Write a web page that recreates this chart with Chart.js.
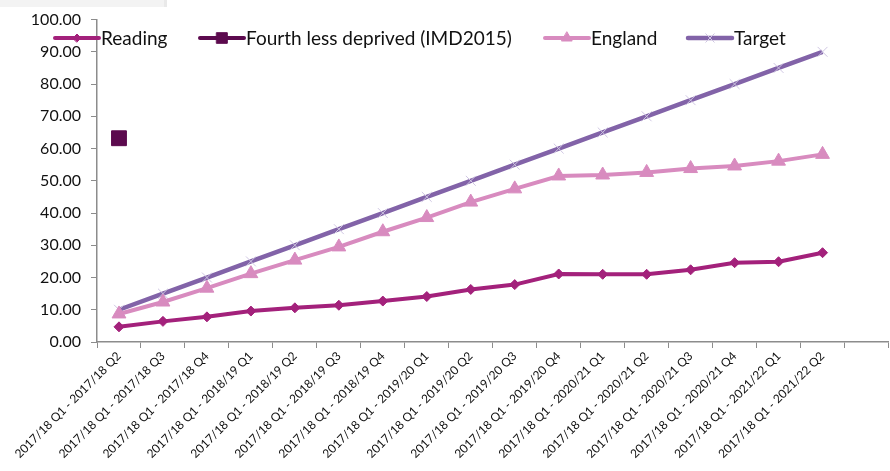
<!DOCTYPE html>
<html>
<head>
<meta charset="utf-8">
<script src="https://cdn.jsdelivr.net/npm/chart.js@4.4.1/dist/chart.umd.min.js"></script>
<style>
  html, body { margin: 0; padding: 0; background: #fff; overflow: hidden; }
  #wrap { width: 900px; height: 471px; }
  canvas { display: block; }
</style>
</head>
<body>
<div id="wrap"><canvas id="chart" width="900" height="471" style="width:900px;height:471px"></canvas></div>
<script>
// Cumulative period labels (last slot left blank on the axis)
const categories = [
  '2017/18 Q1 - 2017/18 Q2', '2017/18 Q1 - 2017/18 Q3', '2017/18 Q1 - 2017/18 Q4',
  '2017/18 Q1 - 2018/19 Q1', '2017/18 Q1 - 2018/19 Q2', '2017/18 Q1 - 2018/19 Q3',
  '2017/18 Q1 - 2018/19 Q4', '2017/18 Q1 - 2019/20 Q1', '2017/18 Q1 - 2019/20 Q2',
  '2017/18 Q1 - 2019/20 Q3', '2017/18 Q1 - 2019/20 Q4', '2017/18 Q1 - 2020/21 Q1',
  '2017/18 Q1 - 2020/21 Q2', '2017/18 Q1 - 2020/21 Q3', '2017/18 Q1 - 2020/21 Q4',
  '2017/18 Q1 - 2021/22 Q1', '2017/18 Q1 - 2021/22 Q2', ''
];
const reading = [4.7, 6.4, 7.8, 9.6, 10.6, 11.4, 12.7, 14.1, 16.3, 17.8, 21.1, 21.0, 21.0, 22.4, 24.6, 24.9, 27.7, null];
const fourthLessDeprived = [63.2, null, null, null, null, null, null, null, null, null, null, null, null, null, null, null, null, null];
const england = [8.7, 12.4, 16.7, 21.2, 25.4, 29.5, 34.2, 38.6, 43.4, 47.5, 51.5, 51.8, 52.6, 53.8, 54.6, 56.1, 58.2, null];
const target = [10, 15, 20, 25, 30, 35, 40, 45, 50, 55, 60, 65, 70, 75, 80, 85, 90, null];
const yTicks = [0, 10, 20, 30, 40, 50, 60, 70, 80, 90, 100];

const FONT = 'Lato, "Open Sans", sans-serif';
const AXIS = '#8c8c8c';

// Legend drawn inside the plot: line segment with marker, then label
const insideLegend = {
  id: 'insideLegend',
  afterDraw(chart) {
    const ctx = chart.ctx;
    const items = [
      { ds: 0, x: 55 }, { ds: 1, x: 200 }, { ds: 2, x: 545 }, { ds: 3, x: 688 }
    ];
    const y = 38;
    ctx.save();
    items.forEach(it => {
      const d = chart.data.datasets[it.ds];
      ctx.strokeStyle = d.borderColor;
      ctx.lineWidth = d.borderWidth;
      ctx.lineCap = 'round';
      ctx.beginPath();
      ctx.moveTo(it.x, y);
      ctx.lineTo(it.x + 44, y);
      ctx.stroke();
      ctx.fillStyle = d.pointBackgroundColor;
      ctx.strokeStyle = d.pointBorderColor;
      ctx.lineWidth = d.pointBorderWidth;
      Chart.helpers.drawPoint(ctx, {
        pointStyle: d.pointStyle,
        radius: d.legendRadius,
        borderWidth: d.pointBorderWidth,
        rotation: 0
      }, it.x + 22, y);
      ctx.fillStyle = '#111';
      ctx.font = '19px ' + FONT;
      ctx.textBaseline = 'middle';
      ctx.textAlign = 'left';
      ctx.fillText(d.label, it.x + 46, y + 1);
    });
    ctx.restore();
  }
};

// Light band along the top-left edge
const topBand = {
  id: 'topBand',
  beforeDraw(chart) {
    const ctx = chart.ctx;
    ctx.save();
    ctx.fillStyle = '#f3f3f3';
    ctx.fillRect(0, 0, 164, 7);
    ctx.fillStyle = '#e9e9e9';
    ctx.fillRect(164, 0, 3, 7);
    ctx.restore();
  }
};

new Chart(document.getElementById('chart'), {
  type: 'line',
  data: {
    labels: categories,
    datasets: [
      {
        label: 'Reading', data: reading,
        borderColor: '#a3217b', backgroundColor: '#a3217b', borderWidth: 4,
        pointStyle: 'rectRot', pointRadius: 5, pointHoverRadius: 5,
        pointBackgroundColor: '#a3217b', pointBorderColor: '#a3217b', pointBorderWidth: 1,
        legendRadius: 4, tension: 0, fill: false, order: 2
      },
      {
        label: 'Fourth less deprived (IMD2015)', data: fourthLessDeprived,
        borderColor: '#5c0a4e', backgroundColor: '#5c0a4e', borderWidth: 4,
        pointStyle: 'rect', pointRadius: 10.5, pointHoverRadius: 10.5,
        pointBackgroundColor: '#5c0a4e', pointBorderColor: '#5c0a4e', pointBorderWidth: 1,
        legendRadius: 7.5, tension: 0, fill: false, order: 1
      },
      {
        label: 'England', data: england,
        borderColor: '#d88bbf', backgroundColor: '#d88bbf', borderWidth: 4,
        pointStyle: 'triangle', pointRadius: 8, pointHoverRadius: 8,
        pointBackgroundColor: '#d88bbf', pointBorderColor: '#d88bbf', pointBorderWidth: 1,
        legendRadius: 6, tension: 0, fill: false, order: 3
      },
      {
        label: 'Target', data: target,
        borderColor: '#8263a8', backgroundColor: '#8263a8', borderWidth: 4.5,
        pointStyle: 'crossRot', pointRadius: 7, pointHoverRadius: 7,
        pointBackgroundColor: '#cfc6e2', pointBorderColor: '#cfc6e2', pointBorderWidth: 1,
        legendRadius: 6, tension: 0, fill: false, order: 4
      }
    ]
  },
  options: {
    responsive: false,
    maintainAspectRatio: false,
    animation: false,
    events: [],
    devicePixelRatio: 1,
    layout: { padding: { top: 16.4, right: -1, left: 0, bottom: 0 } },
    plugins: { legend: { display: false }, tooltip: { enabled: false } },
    scales: {
      x: {
        offset: true,
        grid: { drawOnChartArea: false, drawTicks: true, tickLength: 6, color: AXIS, offset: true },
        border: { color: AXIS, width: 1.5 },
        ticks: {
          color: '#111', font: { family: FONT, size: 12 },
          minRotation: 45, maxRotation: 45, autoSkip: false, padding: 1
        },
        afterFit(scale) {
          scale.height = 129;
          scale.paddingRight = 0;
          scale.paddingLeft = 0;
        }
      },
      y: {
        min: 0, max: 100,
        grid: { drawOnChartArea: false, drawTicks: true, tickLength: 6, color: AXIS },
        border: { color: AXIS, width: 1.5 },
        afterBuildTicks(scale) { scale.ticks = yTicks.map(v => ({ value: v })); },
        ticks: {
          color: '#111', font: { family: FONT, size: 16 }, padding: 10,
          callback: v => Number(v).toFixed(2)
        },
        afterFit(scale) { scale.width = 97; }
      }
    }
  },
  plugins: [topBand, insideLegend]
});
</script>
</body>
</html>
